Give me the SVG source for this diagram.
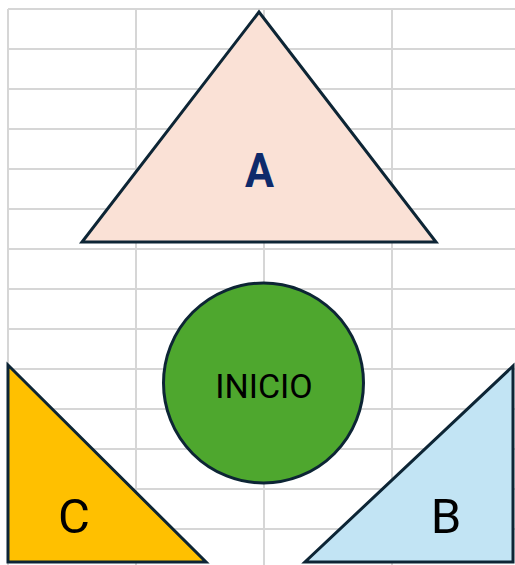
<svg xmlns="http://www.w3.org/2000/svg" width="515" height="565" viewBox="0 0 515 565">
<style>
.grid line{stroke:#D6D6D6;stroke-width:2}
.shape{stroke:#0D2535;stroke-width:3;stroke-linejoin:miter}
.lbl{font-family:Roboto,"Liberation Sans",sans-serif;fill:#000;text-anchor:middle}
</style>
<rect width="515" height="565" fill="#fff"/>
<g class="grid" id="grid">
<line x1="8" y1="9" x2="8" y2="565"/>
<line x1="136" y1="9" x2="136" y2="565"/>
<line x1="264" y1="9" x2="264" y2="565"/>
<line x1="392" y1="9" x2="392" y2="565"/>
<line x1="8" y1="9" x2="515" y2="9"/>
<line x1="8" y1="49" x2="515" y2="49"/>
<line x1="8" y1="89" x2="515" y2="89"/>
<line x1="8" y1="129" x2="515" y2="129"/>
<line x1="8" y1="169" x2="515" y2="169"/>
<line x1="8" y1="209" x2="515" y2="209"/>
<line x1="8" y1="249" x2="515" y2="249"/>
<line x1="8" y1="289" x2="515" y2="289"/>
<line x1="8" y1="329" x2="515" y2="329"/>
<line x1="8" y1="369" x2="515" y2="369"/>
<line x1="8" y1="409" x2="515" y2="409"/>
<line x1="8" y1="449" x2="515" y2="449"/>
<line x1="8" y1="489" x2="515" y2="489"/>
<line x1="8" y1="529" x2="515" y2="529"/>
</g>
<g id="nodeA">
<polygon class="shape" points="259,12 82,242 436,242" fill="#FAE1D6"/>
<text transform="translate(259.5,187) scale(0.88,1)" text-anchor="middle" font-family="Roboto,'Liberation Sans',sans-serif" font-weight="bold" font-size="49" fill="#0E2A6B">A</text>
</g>
<g id="nodeInicio">
<circle class="shape" cx="263.5" cy="383" r="100" fill="#4EA72E"/>
<text class="lbl" x="264" y="397.5" font-size="34">INICIO</text>
</g>
<g id="nodeC">
<polygon class="shape" points="8,365 8,562 206,562" fill="#FFC000"/>
<text class="lbl" x="74" y="533" font-size="49">C</text>
</g>
<g id="nodeB">
<polygon class="shape" points="513,366 513,562 305,562" fill="#C2E4F4"/>
<text class="lbl" x="446" y="533" font-size="49">B</text>
</g>
<g id="connectors"></g>
</svg>
